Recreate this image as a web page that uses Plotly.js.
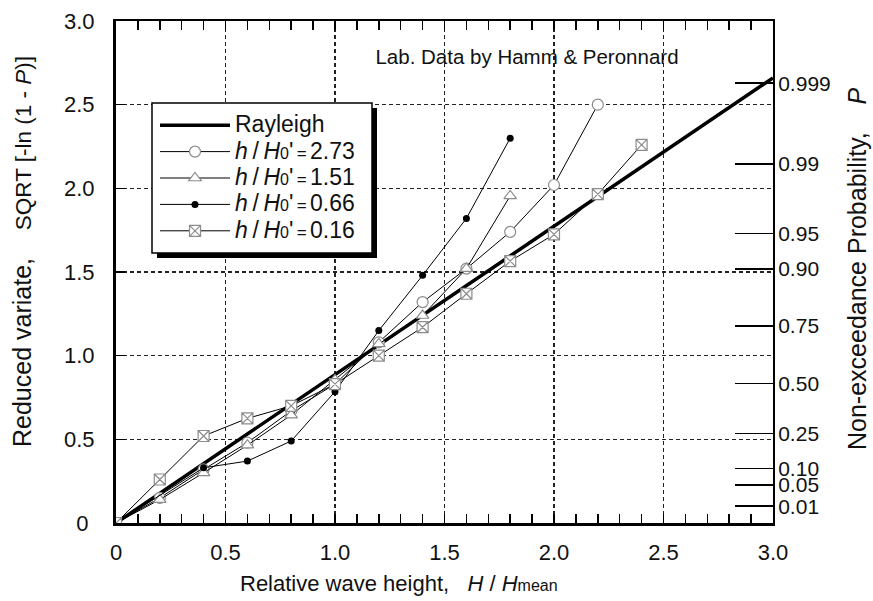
<!DOCTYPE html>
<html>
<head>
<meta charset="utf-8">
<script src="https://cdn.plot.ly/plotly-3.0.1.min.js"></script>
<style>html,body{margin:0;padding:0;background:#fff;}#chart{width:873px;height:601px;}</style>
</head>
<body>
<div id="chart"></div>
<script>
// ---- data ----
const rayleighX = [0, 3.0];
const rayleighY = [0, 2.66];

const x273 = [0, 0.2, 0.4, 0.6, 0.8, 1.0, 1.2, 1.4, 1.6, 1.8, 2.0, 2.2];
const y273 = [0, 0.15, 0.32, 0.48, 0.67, 0.83, 1.08, 1.32, 1.52, 1.74, 2.02, 2.50];

const x151 = [0, 0.2, 0.4, 0.6, 0.8, 1.0, 1.2, 1.4, 1.6, 1.8];
const y151 = [0, 0.14, 0.30, 0.465, 0.645, 0.855, 1.07, 1.24, 1.52, 1.955];

const x066 = [0, 0.4, 0.6, 0.8, 1.0, 1.2, 1.4, 1.6, 1.8];
const y066 = [0, 0.33, 0.37, 0.49, 0.785, 1.15, 1.48, 1.82, 2.30];

const x016 = [0, 0.2, 0.4, 0.6, 0.8, 1.0, 1.2, 1.4, 1.6, 1.8, 2.0, 2.2, 2.4];
const y016 = [0, 0.26, 0.52, 0.625, 0.70, 0.83, 1.00, 1.17, 1.37, 1.565, 1.725, 1.965, 2.26];

const probTicks = [0.999, 0.99, 0.95, 0.90, 0.75, 0.50, 0.25, 0.10, 0.05, 0.01];
const probLabels = ['0.999', '0.99', '0.95', '0.90', '0.75', '0.50', '0.25', '0.10', '0.05', '0.01'];
const leftTickVals = [0, 0.5, 1.0, 1.5, 2.0, 2.5, 3.0];
const leftTickText = ['0<span style="color:rgba(0,0,0,0)">.</span>', '0.5', '1.0', '1.5', '2.0', '2.5', '3.0'];
const bottomTickVals = [0, 0.5, 1.0, 1.5, 2.0, 2.5, 3.0];
const bottomTickText = ['0', '0.5', '1.0', '1.5', '2.0', '2.5', '3.0'];

// reduced variate of each probability tick (axis definition)
const probPos = probTicks.map(p => Math.sqrt(-Math.log(1 - p)));

const FONT = 'Liberation Sans, Arial, Helvetica, sans-serif';
const GRAY = '#8c8c8c';
const LEGFS = 23;
const legName = v => '<span style="font-size:' + LEGFS + 'px"><i>h</i>&#8201;/&#8201;<i>H</i><span style="font-size:16px">0</span>\'<span style="font-size:17px">&#8201;=&#8201;</span>' + v + '</span>';

const traces = [
  {x: rayleighX, y: rayleighY, mode: 'lines', name: '<span style="font-size:' + LEGFS + 'px">Rayleigh</span>',
   line: {color: '#000', width: 3.5}, hoverinfo: 'skip'},
  {x: x273, y: y273, mode: 'lines+markers', name: legName('2.73'),
   line: {color: '#000', width: 1},
   marker: {symbol: 'circle', size: 11, color: '#fff', line: {color: GRAY, width: 1.2}}},
  {x: x151, y: y151, mode: 'lines+markers', name: legName('1.51'),
   line: {color: '#000', width: 1},
   marker: {symbol: 'triangle-up', size: 11, color: '#fff', line: {color: GRAY, width: 1.2}}},
  {x: x066, y: y066, mode: 'lines+markers', name: legName('0.66'),
   line: {color: '#000', width: 1},
   marker: {symbol: 'circle', size: 7, color: '#000', line: {color: '#000', width: 0}}},
  {x: x016, y: y016, mode: 'lines+markers', name: legName('0.16'),
   line: {color: '#000', width: 1},
   marker: {symbol: 'square-x', size: 11, color: '#fff', line: {color: GRAY, width: 1.2}}},
  {x: [], y: [], xaxis: 'x2', yaxis: 'y2', showlegend: false, hoverinfo: 'skip', mode: 'lines'}
];

const L = 116, R = 100, T = 21, B = 78;
const PW = 873 - L - R, PH = 601 - T - B;
const px = v => (v - L) / PW;          // pixel -> paper x
const py = v => 1 - (v - T) / PH;      // pixel -> paper y
const box = {l: 152, t: 103, r: 372, b: 253}, sh = 5;

const layout = {
  width: 873, height: 601,
  margin: {l: L, r: R, t: T, b: B, pad: 0},
  paper_bgcolor: '#fff', plot_bgcolor: '#fff',
  font: {family: FONT, size: 22, color: '#111'},
  showlegend: true,
  title: {text: 'Lab. Data by Hamm &amp; Peronnard', font: {family: FONT, size: 20.5, color: '#111'},
          xref: 'paper', x: px(527), xanchor: 'center',
          yref: 'container', y: 1 - 57 / 601, yanchor: 'middle'},
  xaxis: {range: [0, 3], tickmode: 'array', tickvals: bottomTickVals, ticktext: bottomTickText,
          ticks: 'inside', ticklen: 9, tickwidth: 1.5, tickcolor: '#000',
          minor: {dtick: 0.1, tick0: 0, ticks: 'inside', ticklen: 9, tickwidth: 1.5, tickcolor: '#000', showgrid: false},
          showline: true, linecolor: '#000', linewidth: 3, mirror: false, zeroline: false,
          showgrid: true, gridcolor: '#222', gridwidth: 1.5, griddash: '4px,3px',
          ticklabelstandoff: 8, tickfont: {size: 22}},
  xaxis2: {range: [0, 3], overlaying: 'x', side: 'top', showticklabels: false,
           tickmode: 'linear', tick0: 0, dtick: 0.1, ticks: 'inside', ticklen: 9, tickwidth: 1.5, tickcolor: '#000',
           showline: true, linecolor: '#000', linewidth: 2, showgrid: false, zeroline: false},
  yaxis: {range: [0, 3], tickmode: 'array', tickvals: leftTickVals, ticktext: leftTickText,
          ticks: 'inside', ticklen: 9, tickwidth: 1.5, tickcolor: '#000',
          showline: true, linecolor: '#000', linewidth: 3, zeroline: false,
          showgrid: true, gridcolor: '#222', gridwidth: 1.5, griddash: '4px,3px',
          ticklabelstandoff: 14, tickfont: {size: 22}},
  yaxis2: {range: [0, 3], overlaying: 'y', side: 'right', tickmode: 'array', tickvals: probPos, ticktext: probLabels,
           ticks: 'inside', ticklen: 38, tickwidth: 1.5, tickcolor: '#000',
           showline: true, linecolor: '#000', linewidth: 2, showgrid: false, zeroline: false,
           ticklabelstandoff: -1, tickfont: {size: 21}},
  legend: {x: px(155), xanchor: 'left', y: py(107), yanchor: 'top',
           bgcolor: 'rgba(0,0,0,0)', borderwidth: 0,
           font: {family: FONT, size: 18, color: '#111'}, itemwidth: 70, tracegroupgap: 0,
           traceorder: 'normal'},
  shapes: [
    {type: 'rect', xref: 'paper', yref: 'paper', layer: 'above',
     x0: px(box.l + sh), x1: px(box.r + sh), y0: py(box.b + sh), y1: py(box.t + sh),
     fillcolor: '#000', line: {width: 0}},
    {type: 'rect', xref: 'paper', yref: 'paper', layer: 'above',
     x0: px(box.l), x1: px(box.r), y0: py(box.b), y1: py(box.t),
     fillcolor: '#fff', line: {color: '#000', width: 1.5}}
  ],
  annotations: [
    {text: 'Relative wave height,&nbsp;&nbsp;&nbsp;<i>H</i> / <i>H</i><span style="font-size:16px">mean</span>',
     xref: 'paper', yref: 'paper', x: px(399), y: py(583), xanchor: 'center', yanchor: 'middle',
     showarrow: false, font: {family: FONT, size: 22, color: '#111'}},
    {text: 'Reduced variate,&nbsp;&nbsp;&nbsp;&nbsp;<span style="font-size:22.5px">SQRT [-ln (1 - <i>P</i>)]</span>',
     xref: 'paper', yref: 'paper', x: px(22), y: py(252), xanchor: 'center', yanchor: 'middle', textangle: -90,
     showarrow: false, font: {family: FONT, size: 25, color: '#111'}},
    {text: 'Non-exceedance Probability,&nbsp;&nbsp;&nbsp;&nbsp;<i>P</i>',
     xref: 'paper', yref: 'paper', x: px(857), y: py(269), xanchor: 'center', yanchor: 'middle', textangle: -90,
     showarrow: false, font: {family: FONT, size: 25, color: '#111'}}
  ]
};

Plotly.newPlot('chart', traces, layout, {staticPlot: true, displayModeBar: false});
</script>
</body>
</html>
